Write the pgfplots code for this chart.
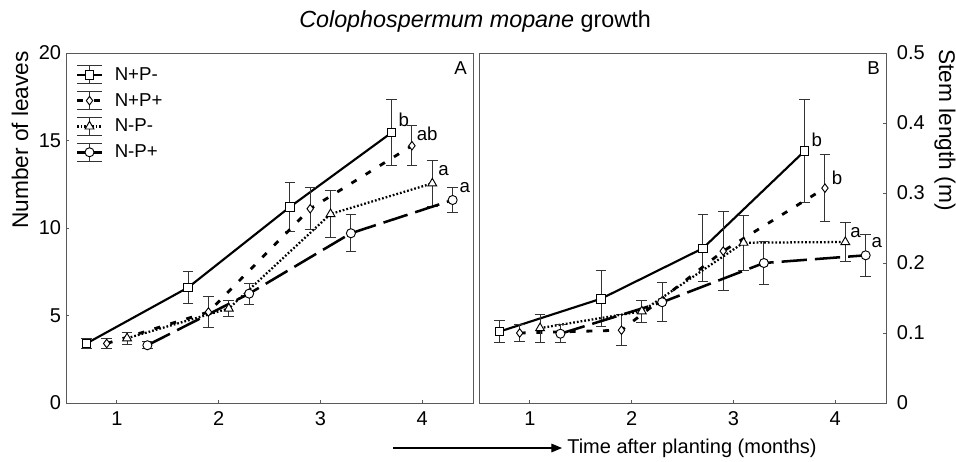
\documentclass[border=0pt]{standalone}
\usepackage{fontspec}
\setmainfont{Liberation Sans}
\usepackage{pgfplots}
\pgfplotsset{compat=1.18}
\usetikzlibrary{arrows.meta}

\def\u{0.75pt}

\tikzset{lett/.style={font=\fontsize{14}{14}\selectfont, inner sep=0pt}}

\pgfplotsset{
  panel/.style={
    scale only axis, width=305.25pt, height=262.5pt,
    xmin=0.5, xmax=4.5, xtick={1,2,3,4},
    axis line style={black!65, line width=0.6pt},
    tick style={black!65, line width=0.6pt},
    major tick length=2.5pt, tick align=inside,
    ticklabel style={font=\fontsize{15}{15}\selectfont, inner sep=1pt},
    xticklabel style={yshift=-5pt},
    /pgf/number format/assume math mode=true,
    clip=false,
  },
  ebar/.style={error bars/.cd, y dir=both, y explicit,
    error bar style={solid, black!80, line width=0.7pt},
    error mark options={rotate=90, solid, black!80, line width=0.7pt, mark size=4pt}},
  mopt/.style={mark options={solid, fill=white, draw=black, line width=0.7pt}},
  s1/.style={black, line width=1.6pt, solid, mark=square*, mark size=3.2pt, mopt},
  s2/.style={black, line width=2.1pt, dash pattern=on 4.5pt off 8pt, mark=diamond*, mark size=3.2pt, mopt},
  s3/.style={black, line width=1.7pt, dash pattern=on 1.3pt off 1.5pt, mark=triangle*, mark size=3.8pt, mopt},
  s4/.style={black, line width=1.9pt, dash pattern=on 19pt off 6pt, mark=*, mark size=3.4pt, mopt},
}

\begin{document}
\begin{tikzpicture}

% panel A: leaves
\begin{axis}[panel, at={({66*\u},{-403*\u})}, anchor=south west,
  ymin=0, ymax=20, ytick={0,5,10,15,20},
  xtick pos=left, ytick pos=left,
  yticklabel style={xshift=-2.5pt},
  legend image code/.code={
    \draw[solid, black!80, line width=0.7pt] (0.33cm,-0.24cm) -- (0.33cm,0.24cm)
      (0cm,-0.24cm) -- (0.66cm,-0.24cm) (0cm,0.24cm) -- (0.66cm,0.24cm);
    \draw[mark repeat=2, mark phase=2, #1] plot coordinates {(0cm,0cm) (0.33cm,0cm) (0.66cm,0cm)};
  },
  legend style={draw=none, fill=none, at={(rel axis cs:0,1)}, anchor=north west,
    xshift=7pt, yshift=-9pt, inner sep=0pt, row sep=5pt,
    nodes={inner sep=0.5pt}, font=\fontsize{14}{14}\selectfont},
  legend cell align=left,
]
\addplot[s1, ebar] coordinates {
  (0.7,3.4) +- (0,0.3) (1.7,6.6) +- (0,0.9) (2.7,11.2) +- (0,1.4) (3.7,15.45) +- (0,1.9)};
\addlegendentry{\hspace{8pt}N+P-}
\addplot[s2, ebar] coordinates {
  (0.9,3.4) +- (0,0.3) (1.9,5.2) +- (0,0.9) (2.9,11.1) +- (0,1.2) (3.9,14.7) +- (0,1.15)};
\addlegendentry{\hspace{8pt}N+P+}
\addplot[s3, ebar] coordinates {
  (1.1,3.7) +- (0,0.35) (2.1,5.4) +- (0,0.45) (3.1,10.8) +- (0,1.35) (4.1,12.55) +- (0,1.3)};
\addlegendentry{\hspace{8pt}N-P-}
\addplot[s4, ebar] coordinates {
  (1.3,3.3) +- (0,0.2) (2.3,6.25) +- (0,0.6) (3.3,9.7) +- (0,1.05) (4.3,11.6) +- (0,0.7)};
\addlegendentry{\hspace{8pt}N-P+}
\node[lett] at (axis cs:3.82,16.2) {b};
\node[lett] at (axis cs:4.05,15.4) {ab};
\node[lett] at (axis cs:4.21,13.3) {a};
\node[lett] at (axis cs:4.42,12.3) {a};
\node[anchor=north east, inner sep=0pt, font=\fontsize{14}{14}\selectfont]
  at (rel axis cs:1,1) [xshift=-4.5pt, yshift=-6pt] {A};
\end{axis}

% panel B: stem length
\begin{axis}[panel, at={({479*\u},{-403*\u})}, anchor=south west,
  ymin=0, ymax=0.5, ytick={0,0.1,0.2,0.3,0.4,0.5},
  yticklabels={0,0.1,0.2,0.3,0.4,0.5},
  xtick pos=left, ytick pos=right,
  yticklabel style={xshift=7pt},
]
\addplot[s1, ebar] coordinates {
  (0.7,0.102) +- (0,0.016) (1.7,0.149) +- (0,0.040) (2.7,0.221) +- (0,0.048) (3.7,0.360) +- (0,0.074)};
\addplot[s2, ebar] coordinates {
  (0.9,0.100) +- (0,0.012) (1.9,0.104) +- (0,0.022) (2.9,0.217) +- (0,0.056) (3.9,0.307) +- (0,0.048)};
\addplot[s3, ebar] coordinates {
  (1.1,0.107) +- (0,0.020) (2.1,0.131) +- (0,0.016) (3.1,0.229) +- (0,0.039) (4.1,0.230) +- (0,0.028)};
\addplot[s4, ebar] coordinates {
  (1.3,0.099) +- (0,0.013) (2.3,0.144) +- (0,0.028) (3.3,0.200) +- (0,0.031) (4.3,0.211) +- (0,0.030)};
\node[lett] at (axis cs:3.82,0.376) {b};
\node[lett] at (axis cs:4.02,0.321) {b};
\node[lett] at (axis cs:4.20,0.244) {a};
\node[lett] at (axis cs:4.41,0.229) {a};
\node[anchor=north east, inner sep=0pt, font=\fontsize{14}{14}\selectfont]
  at (rel axis cs:1,1) [xshift=-4.5pt, yshift=-6pt] {B};
\end{axis}

\node[font=\fontsize{17.5}{18}\selectfont] at ({475*\u},{-21*\u})
  {\textit{Colophospermum mopane} growth};
\node[rotate=90, font=\fontsize{17}{17}\selectfont] at ({20*\u},{-140*\u}) {Number of leaves};
\node[rotate=-90, font=\fontsize{17}{17}\selectfont] at ({945*\u},{-130*\u}) {Stem length (m)};
\draw[-{Triangle[length=8pt,width=6.5pt]}, line width=0.8pt]
  ({393*\u},{-448*\u}) -- ({562*\u},{-448*\u});
\node[anchor=west, inner sep=0pt, font=\fontsize{15}{15}\selectfont] at ({567*\u},{-448*\u})
  {Time after planting (months)};

\pgfresetboundingbox
\path ({0*\u},{0*\u}) rectangle ({956*\u},{-461*\u});
\end{tikzpicture}
\end{document}
